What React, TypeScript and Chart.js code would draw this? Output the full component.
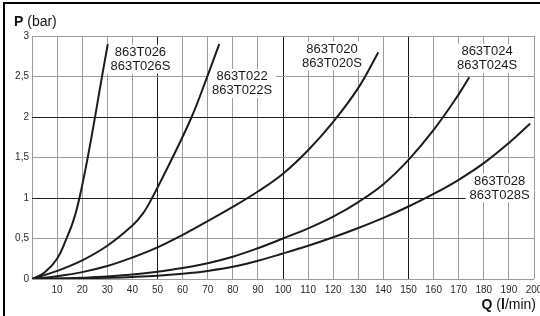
import React, { useEffect, useRef } from 'react';
import { Chart, registerables } from 'chart.js';

Chart.register(...registerables);

const FONT = '"Liberation Sans", Arial, Helvetica, sans-serif';

// Flow Q (l/min) and pressure P (bar) for each valve curve
const q026 = [0, 5, 10, 13.6, 16.5, 18.9, 22.2, 25.4, 27.6, 30.2];
const p026 = [0, 0.08, 0.25, 0.49, 0.72, 1.0, 1.5, 2.05, 2.45, 2.9];

const q022 = [0, 10, 20, 30, 40, 44, 47.5, 56, 63.6, 69.6, 74.6];
const p022 = [0, 0.1, 0.23, 0.41, 0.66, 0.8, 0.98, 1.5, 2.0, 2.48, 2.9];

const q020 = [0, 10, 20, 30, 40, 50, 60, 70, 80, 90, 100, 110, 120, 130, 138];
const p020 = [0, 0.035, 0.085, 0.16, 0.265, 0.39, 0.545, 0.715, 0.89, 1.08, 1.3, 1.59, 1.94, 2.36, 2.8];

const q024 = [0, 10, 20, 30, 40, 50, 60, 70, 80, 90, 100, 110, 120, 130, 140, 150, 160, 170, 174.2];
const p024 = [0, 0.005, 0.015, 0.03, 0.055, 0.09, 0.135, 0.195, 0.275, 0.38, 0.5, 0.625, 0.77, 0.95, 1.17, 1.47, 1.84, 2.28, 2.49];

const q028 = [0, 10, 20, 30, 40, 50, 60, 70, 80, 90, 100, 110, 120, 130, 140, 150, 160, 170, 180, 190, 198.5];
const p028 = [0, 0.003, 0.008, 0.015, 0.025, 0.04, 0.065, 0.1, 0.15, 0.225, 0.315, 0.41, 0.515, 0.63, 0.755, 0.895, 1.05, 1.225, 1.43, 1.68, 1.92];

const seriesNames = ['863T026', '863T022', '863T020', '863T024', '863T028'];
const seriesQ = [q026, q022, q020, q024, q028];
const seriesP = [p026, p022, p020, p024, p028];

// Curve labels (two lines) and their anchor in data coordinates
const labelLine1 = ['863T026', '863T022', '863T020', '863T024', '863T028'];
const labelLine2 = ['863T026S', '863T022S', '863T020S', '863T024S', '863T028S'];
const labelQ = [43.2, 83.7, 119.5, 181.3, 186.3];
const labelP = [2.72, 2.42, 2.76, 2.73, 1.13];

// Axes
const qMin = 0;
const qMax = 200;
const qStep = 10;
const qMajor = [50, 100, 150];
const pMin = 0;
const pMax = 3;
const pStep = 0.5;
const pMajor = [1, 2];

const yTitle: [string, boolean][] = [['P', true], [' (bar)', false]];
const xTitle: [string, boolean][] = [['Q', true], [' (', false], ['l', true], ['/min)', false]];

const GRID_MINOR = '#9c9c9c';
const GRID_MAJOR = '#1c1c1c';
const INK = '#1c1c1c';

function richWidth(ctx: CanvasRenderingContext2D, parts: [string, boolean][], size: number) {
  let w = 0;
  for (const [t, b] of parts) {
    ctx.font = `${b ? 'bold ' : ''}${size}px ${FONT}`;
    w += ctx.measureText(t).width;
  }
  return w;
}

function drawRich(ctx: CanvasRenderingContext2D, parts: [string, boolean][], x: number, y: number, size: number, align: 'left' | 'right') {
  let cx = align === 'left' ? x : x - richWidth(ctx, parts, size);
  ctx.textAlign = 'left';
  ctx.textBaseline = 'middle';
  ctx.fillStyle = '#111';
  for (const [t, b] of parts) {
    ctx.font = `${b ? 'bold ' : ''}${size}px ${FONT}`;
    ctx.fillText(t, cx, y);
    cx += ctx.measureText(t).width;
  }
}

const decor = {
  id: 'decor',
  beforeDatasetsDraw(chart: any) {
    const { ctx, scales } = chart;
    ctx.save();
    ctx.font = `13px ${FONT}`;
    ctx.textAlign = 'center';
    ctx.textBaseline = 'middle';
    for (let i = 0; i < labelLine1.length; i++) {
      const cx = scales.x.getPixelForValue(labelQ[i]);
      const cy = scales.y.getPixelForValue(labelP[i]);
      const w = Math.max(ctx.measureText(labelLine1[i]).width, ctx.measureText(labelLine2[i]).width);
      ctx.fillStyle = '#ffffff';
      ctx.fillRect(cx - w / 2 - 4, cy - 14, w + 8, 29);
      ctx.fillStyle = '#1a1a1a';
      ctx.fillText(labelLine1[i], cx, cy - 6.5);
      ctx.fillText(labelLine2[i], cx, cy + 7.5);
    }
    ctx.restore();
  },
  afterDraw(chart: any) {
    const { ctx } = chart;
    ctx.save();
    drawRich(ctx, yTitle, 14, 22, 14, 'left');
    drawRich(ctx, xTitle, 536, 305, 14, 'right');
    ctx.fillStyle = '#000';
    ctx.fillRect(3, 2, 537, 2);
    ctx.fillRect(3, 2, 2, 314);
    ctx.restore();
  },
};

export default function App() {
  const ref = useRef<HTMLCanvasElement>(null);
  useEffect(() => {
    if (!ref.current) return;
    const chart = new Chart(ref.current, {
      type: 'line',
      data: {
        datasets: seriesNames.map((name, i) => ({
          label: name,
          data: seriesQ[i].map((q, j) => ({ x: q, y: seriesP[i][j] })),
          borderColor: INK,
          borderWidth: 2,
          pointRadius: 0,
          fill: false,
          tension: 0.4,
        })),
      },
      options: {
        responsive: false,
        animation: false,
        events: [],
        layout: { padding: { top: 36, right: 6, bottom: 0, left: 0 } },
        plugins: { legend: { display: false }, tooltip: { enabled: false } },
        scales: {
          x: {
            type: 'linear',
            min: qMin,
            max: qMax,
            border: { display: false },
            grid: {
              drawTicks: false,
              lineWidth: 1,
              color: (c: any) => (qMajor.includes(c.tick.value) ? GRID_MAJOR : GRID_MINOR),
            },
            ticks: {
              stepSize: qStep,
              padding: 5,
              maxRotation: 0,
              autoSkip: false,
              color: '#2a2a2a',
              font: { family: FONT, size: 10 },
              callback: (v: any) => (v === 0 ? '' : String(v)),
            },
            afterFit: (s: any) => {
              s.height = 37;
              s.paddingLeft = 0;
              s.paddingRight = 0;
            },
          },
          y: {
            type: 'linear',
            min: pMin,
            max: pMax,
            border: { display: false },
            grid: {
              drawTicks: false,
              lineWidth: 1,
              color: (c: any) => (pMajor.includes(c.tick.value) ? GRID_MAJOR : GRID_MINOR),
            },
            ticks: {
              stepSize: pStep,
              padding: 3,
              color: '#2a2a2a',
              font: { family: FONT, size: 10 },
              callback: (v: any) => String(v).replace('.', ','),
            },
            afterFit: (s: any) => {
              s.width = 32;
              s.paddingTop = 0;
              s.paddingBottom = 0;
            },
          },
        },
      },
      plugins: [decor],
    });
    return () => chart.destroy();
  }, []);
  return (
    <div style={{ position: 'absolute', left: 0, top: 0, width: 540, height: 316, background: '#fff' }}>
      <canvas ref={ref} width={540} height={316} style={{ display: 'block' }} />
    </div>
  );
}
